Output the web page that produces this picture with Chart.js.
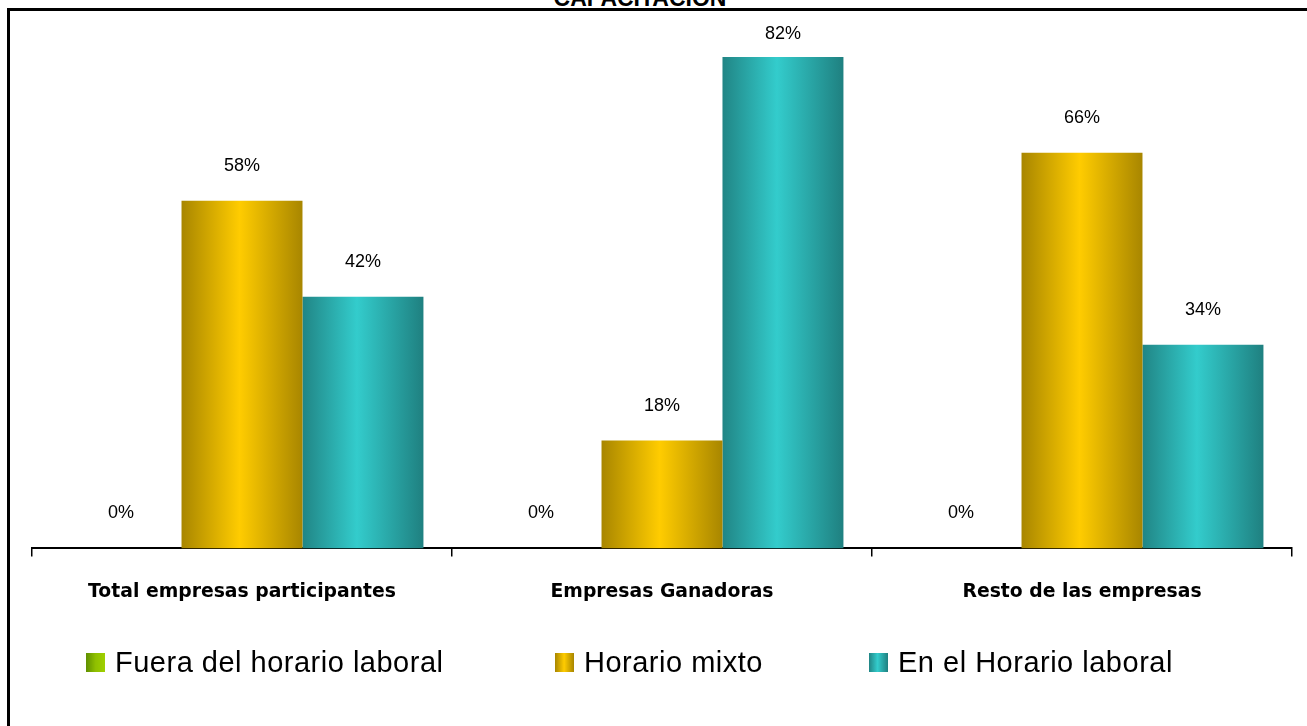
<!DOCTYPE html>
<html>
<head>
<meta charset="utf-8">
<script src="https://cdn.jsdelivr.net/npm/chart.js@4/dist/chart.umd.min.js"></script>
<style>
  html, body { margin: 0; padding: 0; background: #fff; overflow: hidden; }
  #wrap { position: relative; width: 1307px; height: 726px; }
  #frame { position: absolute; left: 7px; top: 8px; width: 1400px; height: 800px;
           border-left: 3px solid #000; border-top: 3px solid #000; box-sizing: border-box; }
  #title { position: absolute; left: 0; width: 1280px; top: -13px; text-align: center;
           font: bold 23px "Liberation Sans", Arial, sans-serif; line-height: 23px; color: #000; }
  canvas { position: absolute; left: 0; top: 0; }
  .leg { position: absolute; top: 646px; height: 32px; display: flex; align-items: center;
         font: 29px "Liberation Sans", Arial, sans-serif; letter-spacing: 0.5px; color: #000; white-space: nowrap; }
  .sw { width: 19px; height: 19px; margin-right: 10px; flex: none; }
</style>
</head>
<body>
<div id="wrap">
  <div id="title">CAPACITACION</div>
  <canvas id="c" width="1307" height="726"></canvas>
  <div id="frame"></div>
  <div id="legend"></div>
</div>
<script>
const categories = ["Total empresas participantes", "Empresas Ganadoras", "Resto de las empresas"];
const seriesNames = ["Fuera del horario laboral", "Horario mixto", "En el Horario laboral"];
const fueraValues = [0, 0, 0];
const mixtoValues = [58, 18, 66];
const laboralValues = [42, 82, 34];

const gradStops = [
  [[0, "#5f8f00"], [0.5, "#8fbf00"], [1, "#9fd000"]],
  [[0, "#a88600"], [0.48, "#ffcc00"], [1, "#a88600"]],
  [[0, "#218585"], [0.45, "#33cccc"], [1, "#1f8080"]]
];
const legendX = [86, 555, 869];

// legend (HTML)
const legendEl = document.getElementById("legend");
seriesNames.forEach((name, i) => {
  const item = document.createElement("div");
  item.className = "leg";
  item.style.left = legendX[i] + "px";
  const sw = document.createElement("div");
  sw.className = "sw";
  sw.style.background = "linear-gradient(to right," + gradStops[i].map(s => s[1] + " " + (s[0]*100) + "%").join(",") + ")";
  const tx = document.createElement("span");
  tx.textContent = name;
  item.appendChild(sw); item.appendChild(tx);
  legendEl.appendChild(item);
});

const gradientPlugin = {
  id: "barGradient",
  beforeDatasetsDraw(chart) {
    const ctx = chart.ctx;
    chart.data.datasets.forEach((ds, di) => {
      const meta = chart.getDatasetMeta(di);
      meta.data.forEach(el => {
        const w = el.width;
        const g = ctx.createLinearGradient(el.x - w / 2, 0, el.x + w / 2, 0);
        gradStops[di].forEach(s => g.addColorStop(s[0], s[1]));
        el.options = Object.assign({}, el.options, { backgroundColor: g });
      });
    });
  }
};

const labelPlugin = {
  id: "valueLabels",
  afterDatasetsDraw(chart) {
    const ctx = chart.ctx;
    ctx.save();
    ctx.font = '18px "Liberation Sans", Arial, sans-serif';
    ctx.fillStyle = "#000";
    ctx.textAlign = "center";
    ctx.textBaseline = "middle";
    chart.data.datasets.forEach((ds, di) => {
      const meta = chart.getDatasetMeta(di);
      meta.data.forEach((el, i) => {
        const y = Math.max(el.y - 35, chart.chartArea.top + 25);
        ctx.fillText(ds.data[i] + "%", el.x, y);
      });
    });
    ctx.restore();
  }
};

new Chart(document.getElementById("c"), {
  type: "bar",
  data: {
    labels: categories,
    datasets: [
      { label: seriesNames[0], data: fueraValues, backgroundColor: "#8fbf00" },
      { label: seriesNames[1], data: mixtoValues, backgroundColor: "#ffcc00" },
      { label: seriesNames[2], data: laboralValues, backgroundColor: "#33cccc" }
    ]
  },
  options: {
    responsive: false,
    animation: false,
    devicePixelRatio: 1,
    categoryPercentage: 0.864,
    barPercentage: 1,
    layout: { padding: { left: 32, right: 15, top: 9, bottom: 99 } },
    plugins: { legend: { display: false }, tooltip: { enabled: false }, title: { display: false } },
    scales: {
      x: {
        offset: true,
        grid: { display: true, drawOnChartArea: false, drawTicks: true, tickLength: 8, color: "#000", lineWidth: 1.5, offset: true },
        border: { display: true, color: "#000", width: 2 },
        ticks: { color: "#000", padding: 24, font: { family: "DejaVu Sans", weight: "bold", size: 18.8 }, maxRotation: 0 }
      },
      y: { display: false, min: 0, max: 90 }
    }
  },
  plugins: [gradientPlugin, labelPlugin]
});
</script>
</body>
</html>
